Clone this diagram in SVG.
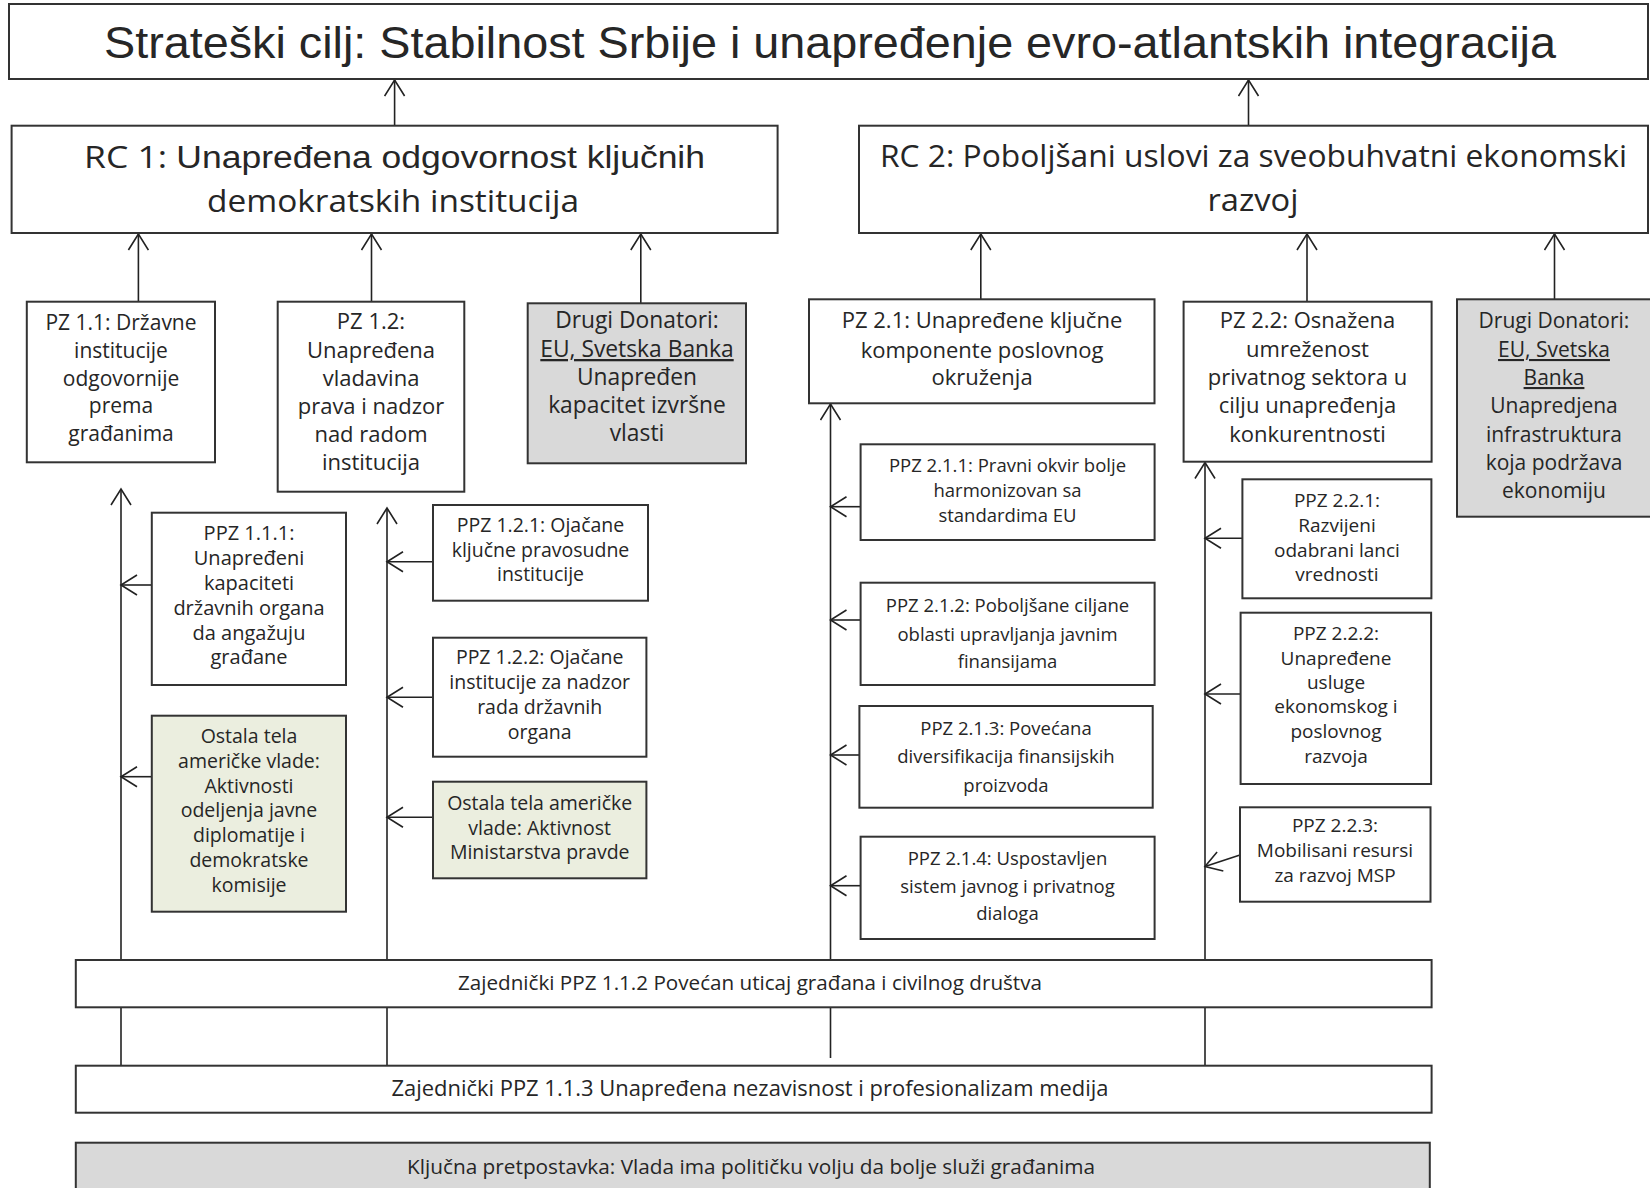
<svg xmlns="http://www.w3.org/2000/svg" width="1650" height="1188" viewBox="0 0 1650 1188">
<style>
.bx{fill:#fff;stroke:#333;stroke-width:2}
.gr{fill:#d9d9d9;stroke:#333;stroke-width:2}
.gn{fill:#ebeedf;stroke:#333;stroke-width:2}
.cn{fill:none;stroke:#222;stroke-width:1.6}
text{font-family:"Open Sans","Noto Sans","DejaVu Sans",sans-serif;fill:#262626;text-anchor:middle}
.t1{font-family:"Liberation Sans",Arial,sans-serif;font-size:44px}
.rc{font-size:31px}
.f21{font-size:21px}
.f22{font-size:22px}
.f23{font-size:22.8px}
.f20{font-size:20px}
.f195{font-size:19.5px}
.f19{font-size:19px}
.f185{font-size:18.5px}
.u{text-decoration:underline}
</style>
<defs>
<marker id="arr" viewBox="0 0 20 22" refX="18" refY="11" markerWidth="20" markerHeight="22" markerUnits="userSpaceOnUse" orient="auto">
<path d="M2,1 L18,11 L2,21" fill="none" stroke="#222" stroke-width="1.6"/>
</marker>
</defs>
<rect width="1650" height="1188" fill="#fff"/>
<g id="connectors">
<line class="cn" x1="394.6" y1="125.7" x2="394.6" y2="80" marker-end="url(#arr)"/>
<line class="cn" x1="1248.5" y1="125.7" x2="1248.5" y2="80" marker-end="url(#arr)"/>
<line class="cn" x1="138.4" y1="301.7" x2="138.4" y2="234" marker-end="url(#arr)"/>
<line class="cn" x1="371.5" y1="301.7" x2="371.5" y2="234" marker-end="url(#arr)"/>
<line class="cn" x1="640.8" y1="303.3" x2="640.8" y2="234" marker-end="url(#arr)"/>
<line class="cn" x1="980.8" y1="299.3" x2="980.8" y2="234" marker-end="url(#arr)"/>
<line class="cn" x1="1307" y1="301.7" x2="1307" y2="234" marker-end="url(#arr)"/>
<line class="cn" x1="1554.5" y1="299.3" x2="1554.5" y2="234" marker-end="url(#arr)"/>
<line class="cn" x1="121" y1="1065.7" x2="121" y2="489" marker-end="url(#arr)"/>
<line class="cn" x1="387" y1="1065.7" x2="387" y2="508" marker-end="url(#arr)"/>
<line class="cn" x1="830.5" y1="1058" x2="830.5" y2="404" marker-end="url(#arr)"/>
<line class="cn" x1="1205" y1="1065.7" x2="1205" y2="462.5" marker-end="url(#arr)"/>
<line class="cn" x1="151.8" y1="585" x2="121" y2="585" marker-end="url(#arr)"/>
<line class="cn" x1="151.8" y1="776.7" x2="121" y2="776.7" marker-end="url(#arr)"/>
<line class="cn" x1="433" y1="561.7" x2="387" y2="561.7" marker-end="url(#arr)"/>
<line class="cn" x1="433" y1="697.3" x2="387" y2="697.3" marker-end="url(#arr)"/>
<line class="cn" x1="433" y1="817.3" x2="387" y2="817.3" marker-end="url(#arr)"/>
<line class="cn" x1="860.6" y1="506.7" x2="830.5" y2="506.7" marker-end="url(#arr)"/>
<line class="cn" x1="860.6" y1="620" x2="830.5" y2="620" marker-end="url(#arr)"/>
<line class="cn" x1="859.4" y1="755" x2="830.5" y2="755" marker-end="url(#arr)"/>
<line class="cn" x1="860.6" y1="885.7" x2="830.5" y2="885.7" marker-end="url(#arr)"/>
<line class="cn" x1="1242.4" y1="538.3" x2="1205" y2="538.3" marker-end="url(#arr)"/>
<line class="cn" x1="1240.6" y1="694" x2="1205" y2="694" marker-end="url(#arr)"/>
<line class="cn" x1="1240" y1="855" x2="1205" y2="866.5" marker-end="url(#arr)"/>
</g>
<g id="goal">
<rect class="bx" x="9" y="4" width="1639" height="75"/>
<text class="t1" x="830" y="58" textLength="1452" lengthAdjust="spacingAndGlyphs">Strateški cilj: Stabilnost Srbije i unapređenje evro-atlantskih integracija</text>
</g>
<g id="rc1">
<rect class="bx" x="11.6" y="125.7" width="766" height="107.3"/>
<text class="rc" x="394.5" y="168" textLength="621" lengthAdjust="spacingAndGlyphs">RC 1: <tspan font-family="Liberation Sans, Arial, sans-serif">Unapređena odgovornost ključnih</tspan></text>
<text class="rc" x="393" y="212" textLength="372" lengthAdjust="spacingAndGlyphs" font-family="Liberation Sans, Arial, sans-serif">demokratskih institucija</text>
</g>
<g id="rc2">
<rect class="bx" x="859" y="125.7" width="789" height="107.3"/>
<text class="rc" x="1253.5" y="167" textLength="747" lengthAdjust="spacingAndGlyphs">RC 2: Poboljšani uslovi za sveobuhvatni ekonomski</text>
<text class="rc" x="1253" y="211" textLength="91" lengthAdjust="spacingAndGlyphs">razvoj</text>
</g>
<g id="pz11">
<rect class="bx" x="26.8" y="301.7" width="188.2" height="160.6"/>
<text class="f21" x="121"><tspan x="121" y="330">PZ 1.1: Državne</tspan><tspan x="121" y="358">institucije</tspan><tspan x="121" y="386">odgovornije</tspan><tspan x="121" y="413">prema</tspan><tspan x="121" y="441">građanima</tspan></text>
</g>
<g id="pz12">
<rect class="bx" x="277.7" y="301.7" width="186.6" height="190"/>
<text class="f22" x="371"><tspan x="371" y="329">PZ 1.2:</tspan><tspan x="371" y="358">Unapređena</tspan><tspan x="371" y="386">vladavina</tspan><tspan x="371" y="414">prava i nadzor</tspan><tspan x="371" y="442">nad radom</tspan><tspan x="371" y="470">institucija</tspan></text>
</g>
<g id="donor1">
<rect class="gr" x="527.7" y="303.3" width="218.3" height="160"/>
<text class="f23" x="637"><tspan x="637" y="328">Drugi Donatori:</tspan><tspan x="637" y="357" class="u">EU, Svetska Banka</tspan><tspan x="637" y="385">Unapređen</tspan><tspan x="637" y="413">kapacitet izvršne</tspan><tspan x="637" y="441">vlasti</tspan></text>
</g>
<g id="pz21">
<rect class="bx" x="809" y="299.3" width="345.5" height="104"/>
<text class="f22" x="982"><tspan x="982" y="328">PZ 2.1: Unapređene ključne</tspan><tspan x="982" y="358">komponente poslovnog</tspan><tspan x="982" y="385">okruženja</tspan></text>
</g>
<g id="pz22">
<rect class="bx" x="1183.6" y="301.7" width="248" height="160"/>
<text class="f22" x="1307.5"><tspan x="1307.5" y="328">PZ 2.2: Osnažena</tspan><tspan x="1307.5" y="357">umreženost</tspan><tspan x="1307.5" y="385">privatnog sektora u</tspan><tspan x="1307.5" y="413">cilju unapređenja</tspan><tspan x="1307.5" y="442">konkurentnosti</tspan></text>
</g>
<g id="donor2">
<rect class="gr" x="1457" y="299.3" width="194" height="217.4"/>
<text class="f21" x="1554"><tspan x="1554" y="328">Drugi Donatori:</tspan><tspan x="1554" y="357" class="u">EU, Svetska</tspan><tspan x="1554" y="385" class="u">Banka</tspan><tspan x="1554" y="413">Unapredjena</tspan><tspan x="1554" y="442">infrastruktura</tspan><tspan x="1554" y="470">koja podržava</tspan><tspan x="1554" y="498">ekonomiju</tspan></text>
</g>
<g id="ppz111">
<rect class="bx" x="151.8" y="512.7" width="194.2" height="172.3"/>
<text class="f20" x="249"><tspan x="249" y="540">PPZ 1.1.1:</tspan><tspan x="249" y="565">Unapređeni</tspan><tspan x="249" y="590">kapaciteti</tspan><tspan x="249" y="615">državnih organa</tspan><tspan x="249" y="640">da angažuju</tspan><tspan x="249" y="664">građane</tspan></text>
</g>
<g id="ostala1">
<rect class="gn" x="151.8" y="715.7" width="194.2" height="196"/>
<text class="f195" x="249"><tspan x="249" y="743">Ostala tela</tspan><tspan x="249" y="768">američke vlade:</tspan><tspan x="249" y="793">Aktivnosti</tspan><tspan x="249" y="817">odeljenja  javne</tspan><tspan x="249" y="842">diplomatije i</tspan><tspan x="249" y="867">demokratske</tspan><tspan x="249" y="892">komisije</tspan></text>
</g>
<g id="ppz121">
<rect class="bx" x="433" y="505" width="215" height="95.7"/>
<text class="f195" x="540.5"><tspan x="540.5" y="532">PPZ 1.2.1: Ojačane</tspan><tspan x="540.5" y="557">ključne pravosudne</tspan><tspan x="540.5" y="581">institucije</tspan></text>
</g>
<g id="ppz122">
<rect class="bx" x="433" y="637.7" width="213.4" height="119"/>
<text class="f195" x="539.7"><tspan x="539.7" y="664">PPZ 1.2.2: Ojačane</tspan><tspan x="539.7" y="689">institucije za nadzor</tspan><tspan x="539.7" y="714">rada državnih</tspan><tspan x="539.7" y="739">organa</tspan></text>
</g>
<g id="ostala2">
<rect class="gn" x="433" y="781.7" width="213.4" height="96.6"/>
<text class="f195" x="539.7"><tspan x="539.7" y="810">Ostala tela američke</tspan><tspan x="539.7" y="835">vlade: Aktivnost</tspan><tspan x="539.7" y="859">Ministarstva pravde</tspan></text>
</g>
<g id="ppz211">
<rect class="bx" x="860.6" y="444.3" width="294" height="95.7"/>
<text class="f185" x="1007.5"><tspan x="1007.5" y="472">PPZ 2.1.1: Pravni okvir bolje</tspan><tspan x="1007.5" y="497">harmonizovan sa</tspan><tspan x="1007.5" y="522">standardima EU</tspan></text>
</g>
<g id="ppz212">
<rect class="bx" x="860.6" y="582.7" width="294" height="102.3"/>
<text class="f185" x="1007.5"><tspan x="1007.5" y="612">PPZ 2.1.2: Poboljšane ciljane</tspan><tspan x="1007.5" y="641">oblasti upravljanja javnim</tspan><tspan x="1007.5" y="668">finansijama</tspan></text>
</g>
<g id="ppz213">
<rect class="bx" x="859.4" y="706" width="293.3" height="101.7"/>
<text class="f185" x="1006"><tspan x="1006" y="735">PPZ 2.1.3: Povećana</tspan><tspan x="1006" y="763">diversifikacija finansijskih</tspan><tspan x="1006" y="792">proizvoda</tspan></text>
</g>
<g id="ppz214">
<rect class="bx" x="860.6" y="836.7" width="294" height="102.3"/>
<text class="f185" x="1007.5"><tspan x="1007.5" y="865">PPZ 2.1.4: Uspostavljen</tspan><tspan x="1007.5" y="893">sistem javnog i privatnog</tspan><tspan x="1007.5" y="920">dialoga</tspan></text>
</g>
<g id="ppz221">
<rect class="bx" x="1242.4" y="479.3" width="189" height="119"/>
<text class="f19" x="1337"><tspan x="1337" y="507">PPZ 2.2.1:</tspan><tspan x="1337" y="532">Razvijeni</tspan><tspan x="1337" y="557">odabrani lanci</tspan><tspan x="1337" y="581">vrednosti</tspan></text>
</g>
<g id="ppz222">
<rect class="bx" x="1240.6" y="612.7" width="190.5" height="171.3"/>
<text class="f19" x="1336"><tspan x="1336" y="640">PPZ 2.2.2:</tspan><tspan x="1336" y="665">Unapređene</tspan><tspan x="1336" y="689">usluge</tspan><tspan x="1336" y="713">ekonomskog i</tspan><tspan x="1336" y="738">poslovnog</tspan><tspan x="1336" y="763">razvoja</tspan></text>
</g>
<g id="ppz223">
<rect class="bx" x="1240" y="807.3" width="190.5" height="94.4"/>
<text class="f19" x="1335"><tspan x="1335" y="832">PPZ 2.2.3:</tspan><tspan x="1335" y="857">Mobilisani resursi</tspan><tspan x="1335" y="882">za razvoj MSP</tspan></text>
</g>
<g id="zaj112">
<rect class="bx" x="75.8" y="960" width="1355.8" height="47.3"/>
<text class="f20" x="750" y="990" textLength="584" lengthAdjust="spacingAndGlyphs">Zajednički PPZ 1.1.2 Povećan uticaj građana i civilnog društva</text>
</g>
<g id="zaj113">
<rect class="bx" x="75.8" y="1065.7" width="1355.8" height="47"/>
<text class="f21" x="750" y="1096" textLength="717" lengthAdjust="spacingAndGlyphs">Zajednički PPZ 1.1.3 Unapređena nezavisnost i profesionalizam medija</text>
</g>
<g id="assumption">
<rect class="gr" x="75.8" y="1142.7" width="1354" height="60"/>
<text class="f20" x="751" y="1174" textLength="688" lengthAdjust="spacingAndGlyphs">Ključna pretpostavka: Vlada ima političku volju da bolje služi građanima</text>
</g>
</svg>
